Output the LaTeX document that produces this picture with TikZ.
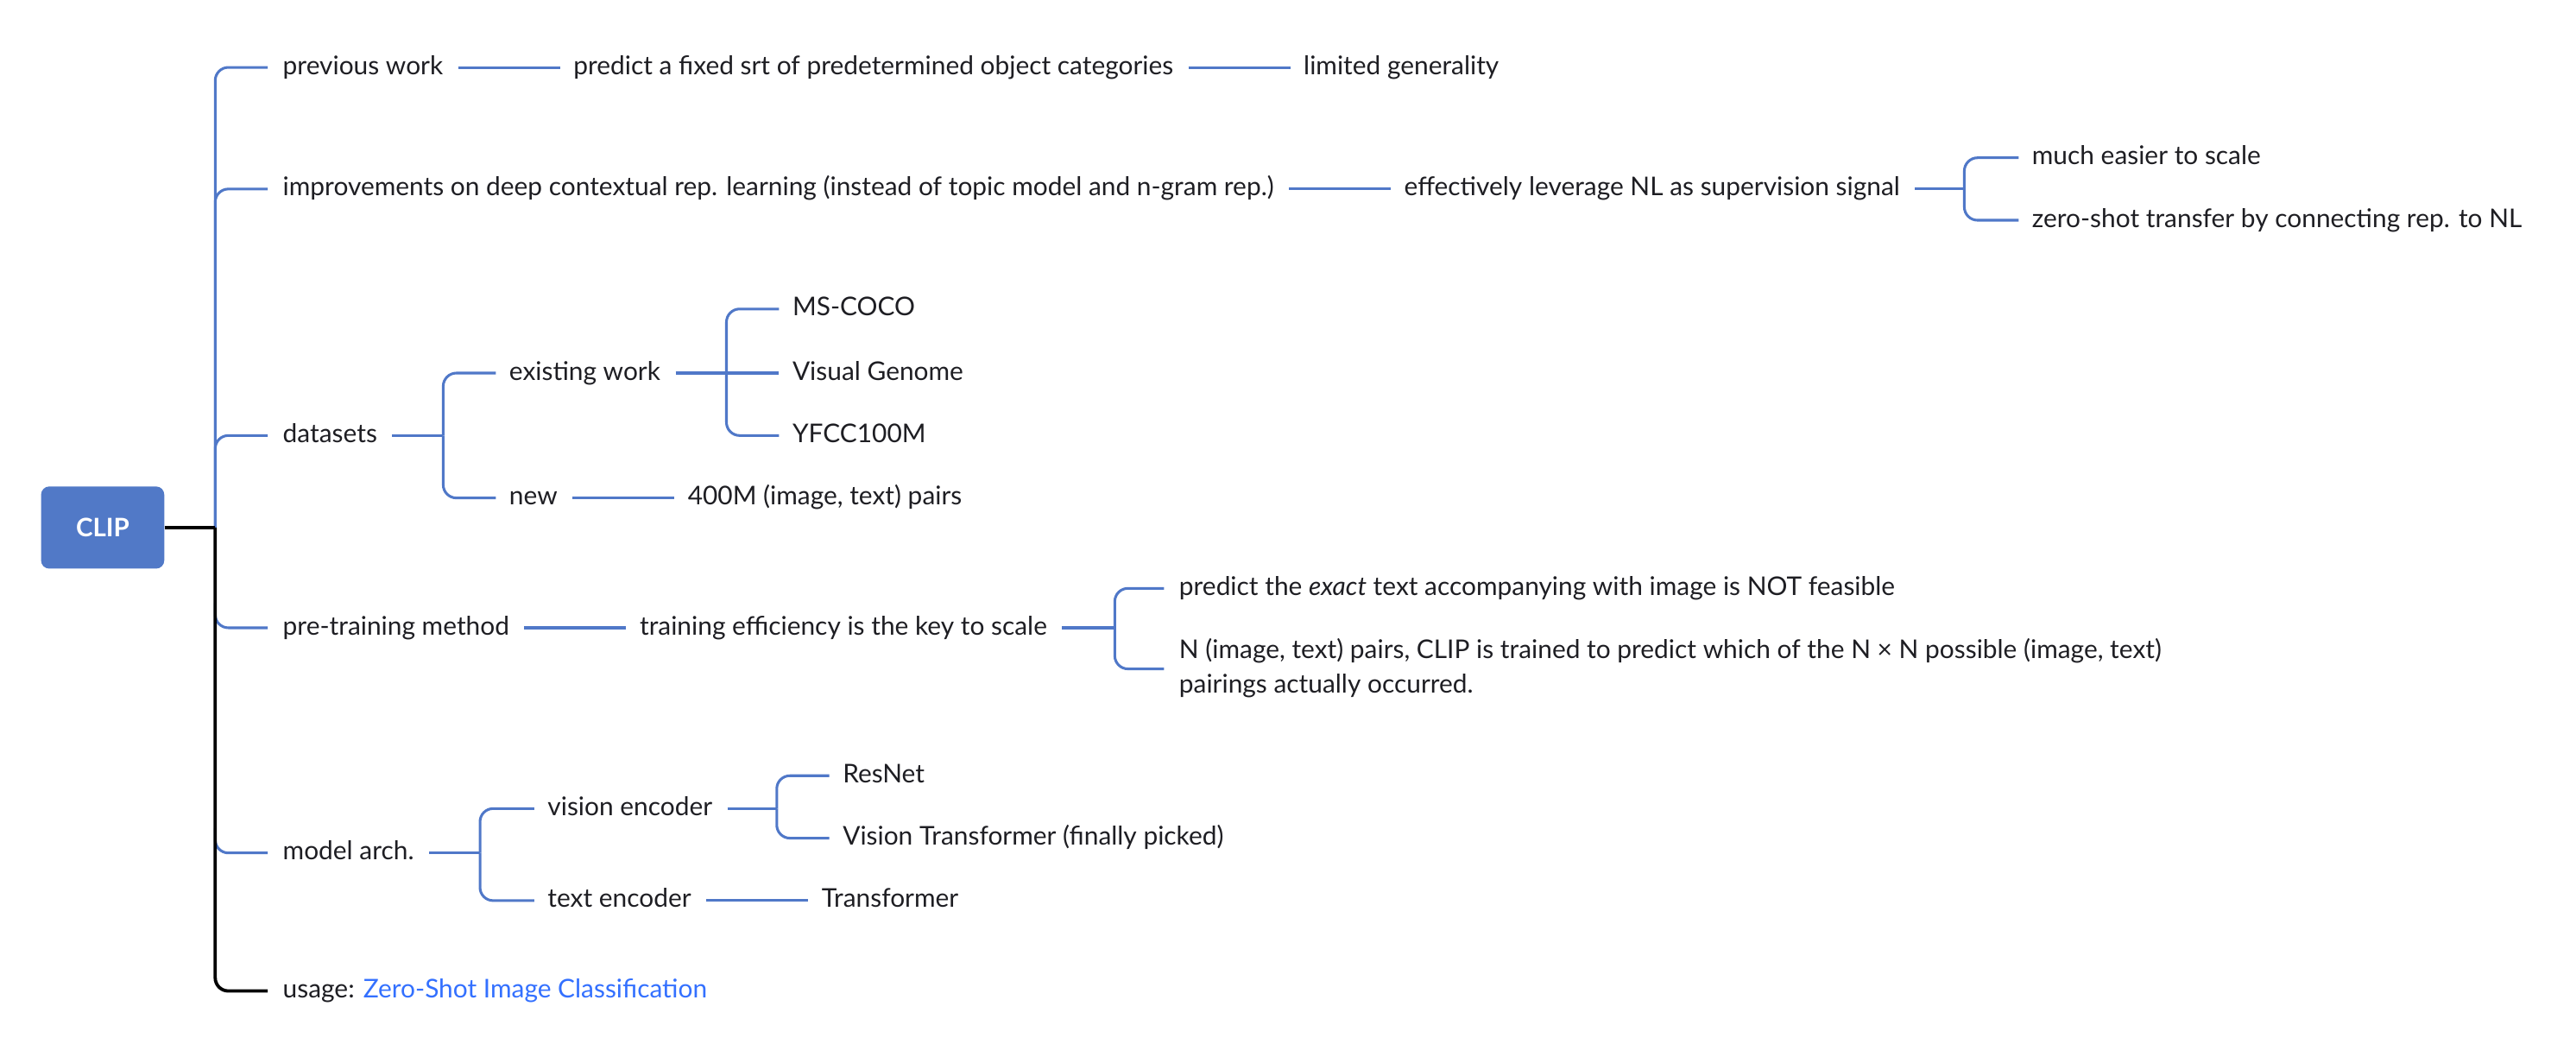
\documentclass[tikz,border=0pt]{standalone}
\usepackage{fontspec}
\setmainfont{Lato}
\usetikzlibrary{calc}
\definecolor{lineblue}{RGB}{80,120,200}
\definecolor{boxblue}{RGB}{81,121,199}
\definecolor{linkblue}{RGB}{51,112,255}
\definecolor{txtcol}{RGB}{30,30,35}
\tikzset{
  txt/.style={anchor=west,inner sep=0pt,text=txtcol,font=\fontsize{15.7}{21}\selectfont,text height=11.5pt,text depth=3pt},
  bl/.style={draw=lineblue,line width=1.6pt},
  blk/.style={draw=black,line width=2pt},
  rc/.style={rounded corners=8pt},
  clipbox/.style={fill=boxblue,rounded corners=5pt,minimum width=75pt,minimum height=50pt,inner sep=0pt,text=white,font=\fontsize{15.5}{18}\selectfont\bfseries}
}
\begin{document}
\begin{tikzpicture}[x=1pt,y=-1pt]
\useasboundingbox (0,0) rectangle (1568,643);
% root
\node[clipbox] (clip) at (62.5,321) {CLIP};
\coordinate (tr) at (131,321);
% level 1
\node[txt] (pw) at (172,41) {previous work};
\node[txt] (imp) at (172,115) {improvements on deep contextual rep. learning (instead of topic model and n-gram rep.)};
\node[txt] (ds) at (172,265) {datasets};
\node[txt] (pt) at (172,382) {pre-training method};
\node[txt] (ma) at (172,519) {model arch.};
\node[txt] (us) at (172,603) {usage: \textcolor{linkblue}{Zero-Shot Image Classification}};
% previous work
\node[txt] (pf) at ([xshift=79pt]pw.east) {predict a fixed srt of predetermined object categories};
\node[txt] (lg) at ([xshift=79pt]pf.east) {limited generality};
\draw[bl] ([xshift=9pt]pw.east) -- ([xshift=-8pt]pf.west);
\draw[bl] ([xshift=9pt]pf.east) -- ([xshift=-8pt]lg.west);
% improvements
\node[txt] (el) at ([xshift=79pt]imp.east) {effectively leverage NL as supervision signal};
\draw[bl] ([xshift=9pt]imp.east) -- ([xshift=-8pt]el.west);
\coordinate (fel) at ([xshift=39pt]el.east);
\node[txt] (me) at ($(fel)+(41,-19)$) {much easier to scale};
\node[txt] (zs) at ($(fel)+(41,19)$) {zero-shot transfer by connecting rep. to NL};
\draw[bl] ([xshift=9pt]el.east) -- (fel);
\draw[bl,rc] (fel) |- ([xshift=-8pt]me.west);
\draw[bl,rc] (fel) |- ([xshift=-8pt]zs.west);
% datasets
\coordinate (fds) at ([xshift=40pt]ds.east);
\node[txt] (ew) at ($(fds)+(40,-38)$) {existing work};
\node[txt] (nw) at ($(fds)+(40,38)$) {new};
\draw[bl] ([xshift=9pt]ds.east) -- (fds);
\draw[bl,rc] (fds) |- ([xshift=-8pt]ew.west);
\draw[bl,rc] (fds) |- ([xshift=-8pt]nw.west);
\coordinate (few) at ([xshift=40pt]ew.east);
\node[txt] (mc) at ($(few)+(40,-39)$) {MS-COCO};
\node[txt] (vg) at ($(few)+(40,0)$) {Visual Genome};
\node[txt] (yf) at ($(few)+(40,38)$) {YFCC100M};
\draw[bl] ([xshift=9pt]ew.east) -- (few);
\draw[bl,rc] (few) |- ([xshift=-8pt]mc.west);
\draw[bl] (few) -- ([xshift=-8pt]vg.west);
\draw[bl,rc] (few) |- ([xshift=-8pt]yf.west);
\node[txt] (fh) at ([xshift=79pt]nw.east) {400M (image, text) pairs};
\draw[bl] ([xshift=9pt]nw.east) -- ([xshift=-8pt]fh.west);
% pre-training
\node[txt] (te) at ([xshift=79pt]pt.east) {training efficiency is the key to scale};
\draw[bl] ([xshift=9pt]pt.east) -- ([xshift=-8pt]te.west);
\coordinate (fte) at ([xshift=41pt]te.east);
\node[txt] (ex) at ($(fte)+(39,-24)$) {predict the \textit{exact} text accompanying with image is NOT feasible};
\node[txt,align=left,text height=32.5pt] (np) at ($(fte)+(39,25)$) {N (image, text) pairs, CLIP is trained to predict which of the N × N possible (image, text)\\pairings actually occurred.};
\draw[bl] ([xshift=9pt]te.east) -- (fte);
\draw[bl,rc] (fte) |- ([xshift=-9pt]ex.west);
\draw[bl,rc] (fte) |- ([xshift=-9pt]np.west);
% model arch
\coordinate (fma) at ([xshift=40pt]ma.east);
\node[txt] (ve) at ($(fma)+(41,-27)$) {vision encoder};
\node[txt] (tx) at ($(fma)+(41,29)$) {text encoder};
\draw[bl] ([xshift=9pt]ma.east) -- (fma);
\draw[bl,rc] (fma) |- ([xshift=-8pt]ve.west);
\draw[bl,rc] (fma) |- ([xshift=-8pt]tx.west);
\coordinate (fve) at ([xshift=39pt]ve.east);
\node[txt] (rn) at ($(fve)+(40,-20)$) {ResNet};
\node[txt] (vt) at ($(fve)+(40,18)$) {Vision Transformer (finally picked)};
\draw[bl] ([xshift=9pt]ve.east) -- (fve);
\draw[bl,rc] (fve) |- ([xshift=-8pt]rn.west);
\draw[bl,rc] (fve) |- ([xshift=-8pt]vt.west);
\node[txt] (tf) at ([xshift=79pt]tx.east) {Transformer};
\draw[bl] ([xshift=9pt]tx.east) -- ([xshift=-8pt]tf.west);
% trunk
\draw[bl,rc] (tr) |- ([xshift=-9pt]pw.west);
\draw[bl,rc] (tr) |- ([xshift=-9pt]imp.west);
\draw[bl,rc] (tr) |- ([xshift=-9pt]ds.west);
\draw[bl,rc] ($(tr|-pt.west)+(0,-15)$) |- ([xshift=-9pt]pt.west);
\draw[bl,rc] ($(tr|-ma.west)+(0,-15)$) |- ([xshift=-9pt]ma.west);
\draw[blk] (clip.east) -- (tr);
\draw[blk,rc] (tr) |- ([xshift=-9pt]us.west);
\end{tikzpicture}
\end{document}
